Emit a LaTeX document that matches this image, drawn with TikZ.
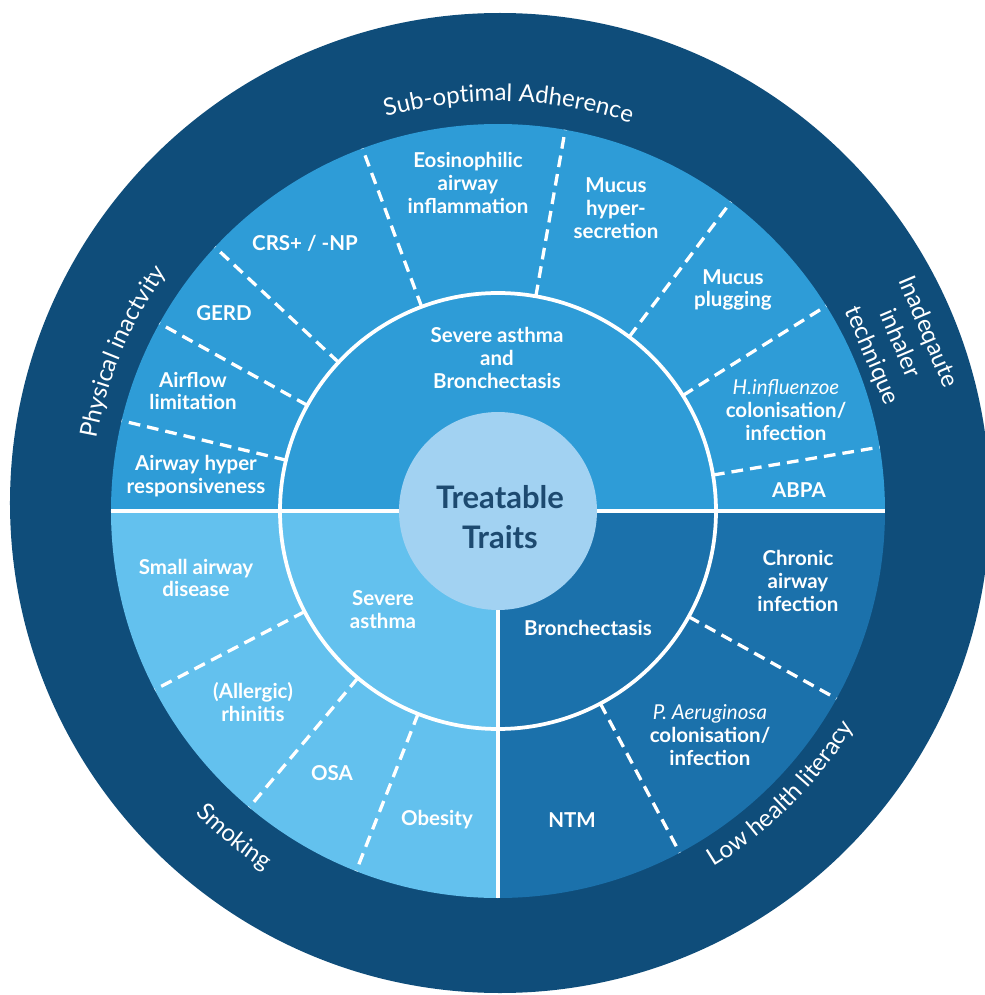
\documentclass[tikz,border=0pt]{standalone}
\usepackage{fontspec}
\setmainfont{Lato}
\usetikzlibrary{decorations.text}

\definecolor{ringdark}{HTML}{0F4D7A}
\definecolor{bothblue}{HTML}{2E9CD7}
\definecolor{asthmablue}{HTML}{63C1EE}
\definecolor{bronchblue}{HTML}{1B71AB}
\definecolor{corefill}{HTML}{A2D2F2}
\definecolor{coretext}{HTML}{1D4A70}

\tikzset{
	trait/.style = {text = white, align = center, font = \bfseries\fontsize{17.5}{19.5}\selectfont},
	bug/.style = {font = \normalfont\itshape},
	divider/.style = {white, line width = 2.8pt, dash pattern = on 10pt off 6pt},
	seam/.style = {white, line width = 2.6pt},
	barrier/.style = {decorate, decoration = {text along path, text align = center, text = {|\fontsize{20.5}{24}\selectfont\color{white}|#1}}}
}

\begin{document}
\begin{tikzpicture}[x = 0.3mm, y = 0.3mm]
	%	radii
	\def\rcore{99}
	\def\rmid{218}
	\def\rsec{387}
	\def\rout{490}
	
	%	canvas
	\path[use as bounding box, fill = white] (-498, -484) rectangle (487, 511);
	
	%	rings
	\fill[ringdark] (2, 8) circle[radius = \rout];
	\fill[bothblue] (0:\rsec) arc[start angle = 0, end angle = 180, radius = \rsec] -- cycle;
	\fill[asthmablue] (0, 0) -- (180:\rsec) arc[start angle = 180, end angle = 270, radius = \rsec] -- cycle;
	\fill[bronchblue] (0, 0) -- (270:\rsec) arc[start angle = 270, end angle = 360, radius = \rsec] -- cycle;
	
	%	dividers
	\foreach \a in {9.5, 32, 53, 80, 110.5, 137, 151, 166.5, 207.5, 230, 248.5, 298, 331}
		\draw[divider] (\a:\rmid) -- (\a:\rsec);
	\draw[seam] (180:\rsec) -- (0:\rsec);
	\draw[seam] (0, 0) -- (270:\rsec);
	\draw[white, line width = 3.2pt] (0, 0) circle[radius = \rmid];
	\fill[corefill] (0, 0) circle[radius = \rcore];
	
	%	core
	\node[align = center, text = coretext, font = \bfseries\fontsize{26.5}{34}\selectfont] (core) at (2, -6) {Treatable\\Traits};
	
	%	inner groups
	\node[trait] (both) at (-1, 153) {Severe asthma\\and\\Bronchectasis};
	\node[trait] (asthma) at (-115, -99) {Severe\\asthma};
	\node[trait] (bronch) at (90, -117) {Bronchectasis};
	
	%	traits
	\node[trait] (eos) at (-30, 328) {Eosinophilic\\airway\\inflammation};
	\node[trait] (hyper) at (118, 303) {Mucus\\hyper-\\secretion};
	\node[trait] (plug) at (235, 221) {Mucus\\plugging};
	\node[trait] (hinf) at (288, 101) {{\normalfont\itshape H.influenzoe}\\colonisation/\\infection};
	\node[trait] (abpa) at (301, 21) {ABPA};
	\node[trait] (chronic) at (300, -70) {Chronic\\airway\\infection};
	\node[trait] (paer) at (212, -224) {{\normalfont\itshape P. Aeruginosa}\\colonisation/\\infection};
	\node[trait] (ntm) at (74, -309) {NTM};
	\node[trait] (obes) at (-61, -309) {Obesity};
	\node[trait] (osa) at (-166, -262) {OSA};
	\node[trait] (rhin) at (-245, -191) {(Allergic)\\rhinitis};
	\node[trait] (small) at (-302, -67) {Small airway\\disease};
	\node[trait] (ahr) at (-302, 35) {Airway hyper\\responsiveness};
	\node[trait] (airflow) at (-305, 120) {Airflow\\limitation};
	\node[trait] (gerd) at (-274, 198) {GERD};
	\node[trait] (crs) at (-193, 268) {CRS+ / -NP};
	
	%	outer ring
	\path[barrier = Sub-optimal Adherence] (114:410) arc[start angle = 114, end angle = 63, radius = 410];
	\path[barrier = Physical inactvity] (183:408) arc[start angle = 183, end angle = 131, radius = 408];
	\path[barrier = Smoking] (211:428) arc[start angle = 211, end angle = 251, radius = 428];
	\path[barrier = Low health literacy] (-70:416) arc[start angle = -70, end angle = -20, radius = 416];
	\node[rotate = -67, align = center, text = white, font = \fontsize{20.5}{26}\selectfont] (technique) at (22.6:435) {Inadeqaute\\inhaler\\technique};
\end{tikzpicture}
\end{document}
